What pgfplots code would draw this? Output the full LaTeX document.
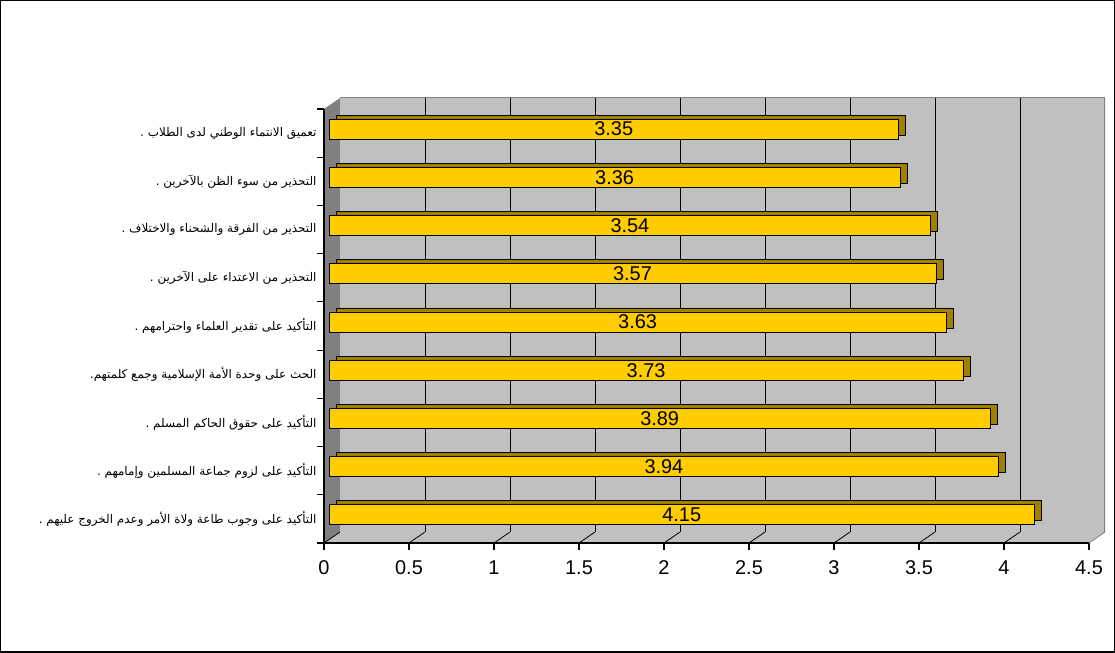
\documentclass[border=0pt]{standalone}
\usepackage{fontspec}
\setmainfont{Liberation Sans}
\newfontfamily\arabicfont[Script=Arabic]{DejaVu Sans}
\usepackage{pgfplots}
\pgfplotsset{compat=1.18}
\usepackage{pgfplotstable}
\TeXXeTstate=1
\definecolor{wall}{HTML}{C0C0C0}
\definecolor{side}{HTML}{808080}
\definecolor{barfill}{HTML}{FFCC00}
\definecolor{barshade}{HTML}{A08000}

\pgfplotstableread{
y v
0.5 4.15
1.5 3.94
2.5 3.89
3.5 3.73
4.5 3.63
5.5 3.57
6.5 3.54
7.5 3.36
8.5 3.35
}\datatable

\begin{document}
\begin{tikzpicture}[x=1bp,y=1bp]
\useasboundingbox (0,0) rectangle (1115,653);
\fill[white] (0,0) rectangle (1115,653);
\draw[line width=1.5bp] (0.75,0.75) rectangle (1114.25,652.25);
% side wall and floor
\fill[side] (324,110) -- (324,544) -- (340,555) -- (340,121) -- cycle;
\fill[wall] (324,110) -- (1089,110) -- (1105,121) -- (340,121) -- cycle;
\foreach \k in {0,...,8} \draw[black, line width=0.8bp] ({324+85*\k},110) -- ({340+85*\k},121);
\draw[side, line width=0.8bp] (1089,110) -- (1105,121);

% back wall
\begin{axis}[at={(340bp,121bp)}, anchor=south west, scale only axis,
  width=765bp, height=434bp, xmin=0, xmax=4.5, ymin=0, ymax=9,
  axis background/.style={fill=wall},
  xtick={0.5,1,...,4}, xticklabels={}, ytick=\empty,
  xmajorgrids, grid style={black, line width=0.8bp},
  major tick length=0pt, axis line style={draw=none}]
  \draw[side, line width=2.5bp] (rel axis cs:1,0) -- (rel axis cs:1,1);
  \draw[gray, line width=1bp] (rel axis cs:0,1) -- (rel axis cs:1,1);
\end{axis}

% bar depth
\begin{axis}[at={(336bp,118bp)}, anchor=south west, scale only axis,
  width=765bp, height=434bp, xmin=0, xmax=4.5, ymin=0, ymax=9, hide axis]
  \addplot[xbar, bar width=20bp, fill=barshade, draw=black, line width=0.8bp] table[x=v, y=y] {\datatable};
\end{axis}

% bar front
\begin{axis}[at={(329bp,114bp)}, anchor=south west, scale only axis,
  width=765bp, height=434bp, xmin=0, xmax=4.5, ymin=0, ymax=9, hide axis]
  \addplot[xbar, bar width=20bp, fill=barfill, draw=black, line width=0.8bp] table[x=v, y=y] {\datatable};
  \addplot[only marks, mark=*, mark size=0pt, mark options={draw=none, fill=none},
    nodes near coords, point meta=explicit symbolic,
    nodes near coords style={anchor=center, font=\fontsize{20}{20}\selectfont, text=black}]
    table[x expr=\thisrow{v}/2, y=y, meta=v] {\datatable};
\end{axis}

% front axis
\begin{axis}[at={(324bp,110bp)}, anchor=south west, scale only axis,
  width=765bp, height=434bp, xmin=0, xmax=4.5, ymin=0, ymax=9,
  axis x line*=bottom, axis y line*=left,
  axis line style={black, line width=1.2bp},
  tick style={black, line width=1.2bp}, tick align=outside, major tick length=7bp,
  xtick={0,0.5,...,4.5},
  xticklabels={0,0.5,1,1.5,2,2.5,3,3.5,4,4.5},
  xticklabel style={font=\fontsize{20}{20}\selectfont, yshift=-7bp},
  ytick={0,...,9}, yticklabels={},
  extra y ticks={0.5,1.5,...,8.5},
  extra y tick style={major tick length=0pt, yticklabel style={anchor=east, xshift=-4bp, font=\arabicfont\fontsize{12}{14}\selectfont}},
  extra y tick labels={
    {\beginR التأكيد على وجوب طاعة ولاة الأمر وعدم الخروج عليهم .\endR},
    {\beginR التأكيد على لزوم جماعة المسلمين وإمامهم .\endR},
    {\beginR التأكيد على حقوق الحاكم المسلم .\endR},
    {\beginR الحث على وحدة الأمة الإسلامية وجمع كلمتهم.\endR},
    {\beginR التأكيد على تقدير العلماء واحترامهم .\endR},
    {\beginR التحذير من الاعتداء على الآخرين .\endR},
    {\beginR التحذير من الفرقة والشحناء والاختلاف .\endR},
    {\beginR التحذير من سوء الظن بالآخرين .\endR},
    {\beginR تعميق الانتماء الوطني لدى الطلاب .\endR}
  }]
  \addplot[draw=none, forget plot] coordinates {(0,0)};
\end{axis}
\end{tikzpicture}
\end{document}
